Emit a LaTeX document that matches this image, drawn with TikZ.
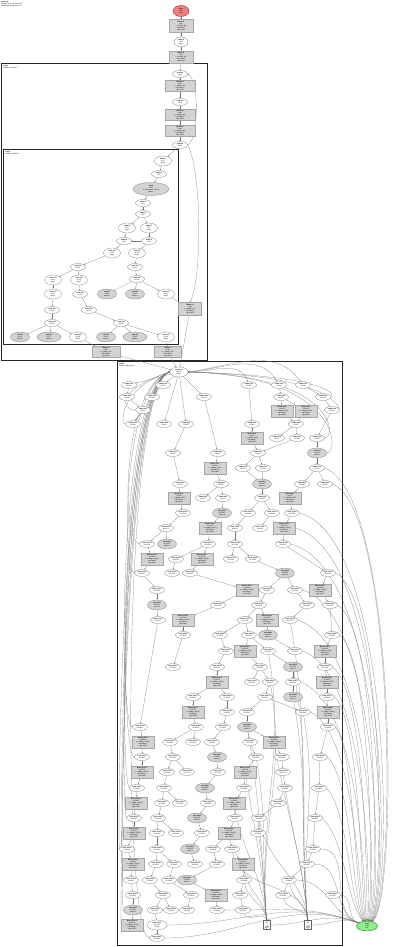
\documentclass[tikz,border=0pt]{standalone}
\usepackage{fontspec}
\setmainfont{Liberation Sans}
\usetikzlibrary{shapes.geometric,arrows.meta}
\pgfdeclarelayer{clus}
\pgfdeclarelayer{edgs}
\pgfsetlayers{clus,edgs,main}
\definecolor{stred}{HTML}{F08080}
\definecolor{engrn}{HTML}{90EE90}
\definecolor{gfill}{HTML}{D3D3D3}
\newcommand{\eltx}[1]{\textbf{node #1}\\id #1}
\newcommand{\elthr}[1]{\textbf{node #1}\\id #1\\deg 2}
\newcommand{\bxtx}[1]{\textbf{Block #1}\\id #1\\x = load(p, #1);\\call step(x);\\goto next}
\newcommand{\gltx}[1]{\textbf{exit #1}\\id #1\\return x}
\begin{document}
\begin{tikzpicture}[x=1pt,y=-1pt,
  tx/.style={font={\fontsize{1.7}{2.0}\selectfont}, align=center, inner sep=0.2pt},
  elw/.style={tx, ellipse, draw=black!55, line width=0.25pt, fill=white, minimum width=15pt, minimum height=7pt},
  elt/.style={elw, minimum width=17pt, minimum height=10pt},
  elg/.style={tx, ellipse, draw=black!55, line width=0.25pt, fill=gfill, minimum width=19pt, minimum height=10pt},
  bxg/.style={tx, rectangle, draw=black!35, line width=0.25pt, fill=gfill, minimum width=22pt, minimum height=12pt},
  bxw/.style={bxg, minimum width=30pt, minimum height=11pt},
  sml/.style={tx, rectangle, draw=black!60, line width=0.25pt, fill=white, minimum width=7pt, minimum height=8pt},
  edg/.style={draw=black!55, line width=0.2pt, -{Stealth[length=1.4pt,width=1.1pt]}},
  clu/.style={draw=black!85, line width=0.8pt},
  clin/.style={draw=black!85, line width=0.6pt},
  lbl/.style={tx, align=left, anchor=north west}]
\useasboundingbox (0,0) rectangle (400,947);

% title
\node[lbl] (ttl) at (1,1) {\textbf{main cfg}\\function: main (212 blocks)\\generated by cfg-dump 1.2};

% top chain
\node[tx, ellipse, draw=red!60!black, line width=0.3pt, fill=stred, minimum width=16pt, minimum height=11pt] (start) at (181,11) {\textbf{Start}\\main\\entry};
\node[bxg, minimum width=24pt, minimum height=13pt] (t1) at (181,26) {\bxtx{t1}};
\node[elt, minimum width=14pt] (t2) at (181,42) {\elthr{t2}};
\node[bxg, minimum width=24pt, minimum height=12pt] (t3) at (181,57) {\bxtx{t3}};

% cluster 1 chain
\node[elw] (a1) at (180,74) {\eltx{a1}};
\node[bxw] (a2) at (180,86) {\bxtx{a2}};
\node[elw] (a3) at (180,102) {\eltx{a3}};
\node[bxw] (a4) at (180,115) {\bxtx{a4}};
\node[bxw] (a5) at (180,131) {\bxtx{a5}};
\node[elw] (a6) at (180,145) {\eltx{a6}};

% inner cluster
\foreach \nm/\x/\y in {i2/159/174, i4/143/203, i5/143/214, i8/124/241, i9/149/241,
  i12/78/267, i13/135/267, i16/137/279, i18/80/294, i22/52/310, i23/89/310, i24/52/323, i25/121/323}
  \node[elw] (\nm) at (\x,\y) {\eltx{\nm}};
\foreach \nm/\x/\y in {i1/163/161, i6/127/228, i7/149/228, i10/112/253, i11/137/253,
  i14/53/280, i15/79/280, i17/53/294, i21/166/294, i28/78/337, i31/166/337}
  \node[elt] (\nm) at (\x,\y) {\elthr{\nm}};
\foreach \nm/\x/\y in {i19/107/294, i20/135/294, i26/20/337, i29/106/337}
  \node[elg] (\nm) at (\x,\y) {\gltx{\nm}};
\foreach \nm/\x/\y in {i27/49/337, i30/135/337}
  \node[elg, minimum width=24pt] (\nm) at (\x,\y) {\gltx{\nm}};
\node[elg, minimum width=36pt, minimum height=13pt] (i3) at (151,189) {\textbf{exit i3}\\id i3\\r = reduce(acc, buf, n);\\return r};

\node[bxg, minimum width=23pt, minimum height=13pt] (c1) at (190,309) {\bxtx{c1}};
\node[bxg, minimum width=28pt, minimum height=11pt] (c2) at (106,352) {\bxtx{c2}};
\node[bxg, minimum width=27pt, minimum height=11pt] (c3) at (168,352) {\bxtx{c3}};

% big cluster
\node[elt, minimum width=18pt] (hub) at (179,372) {\elthr{hub}};
\foreach \nm/\x/\y in {
r1c1/129/385, r1c2/163/385, r1c3/249/385, r1c4/279/385, r1c5/303/385,
r2c1/127/397, r2c2/152/397, r2c3/204/397, r2c4/281/397, r2c5/323/397,
r3c1/143/410, r3c4/332/410,
r4c1/133/424, r4c2/164/424, r4c3/186/424, r4c4/252/424, r4c5/296/424,
r5c2/277/438, r5c3/297/438, r5c4/317/438,
r6c1/173/453, r6c2/218/453, r6c3/258/453,
r7c2/243/468, r7c3/263/468, r7c4/317/468,
r8c1/180/484, r8c2/221/484, r8c4/302/484, r8c5/325/484,
r9c2/203/498, r9c3/223/498, r9c4/262/498,
r10c1/183/513, r10c3/248/513, r10c4/272/513, r10c5/292/513,
r11c1/166/528, r11c3/235/528, r11c4/260/528,
r12c1/147/544, r12c3/208/544, r12c4/235/544, r12c5/283/544,
r13c2/176/559, r13c4/231/559, r13c5/253/559,
r14c1/142/573, r14c2/172/573, r14c3/190/573, r14c5/328/573,
r15c1/157/590, r15c3/267/590, r15c4/295/590,
r16c2/218/605, r16c3/259/605, r16c4/307/605, r16c5/330/605,
r17c1/158/620, r17c3/245/620, r17c5/290/620,
r18c1/183/635, r18c2/220/635, r18c3/249/635, r18c5/332/635,
r19c1/226/651, r19c3/268/651, r19c4/295/651,
r20c1/173/667, r20c2/217/667, r20c3/260/667, r20c5/325/667,
r21c2/252/682, r21c3/270/682, r21c4/293/682,
r22c1/193/697, r22c2/227/697, r22c3/265/697, r22c5/327/697,
r23c2/227/712, r23c3/247/712, r23c4/303/712,
r24c1/140/727, r24c2/196/727, r24c3/223/727, r24c5/328/727,
r25c2/170/742, r25c3/193/742, r25c4/212/742, r25c5/250/742,
r26c1/142/757, r26c2/173/757, r26c4/256/757, r26c5/282/757, r26c6/320/757,
r27c2/167/772, r27c3/187/772, r27c4/218/772, r27c6/283/772,
r28c1/137/788, r28c2/164/788, r28c4/244/788, r28c5/285/788, r28c6/319/788,
r29c2/162/803, r29c3/180/803, r29c4/208/803, r29c6/278/803,
r30c1/134/818, r30c2/158/818, r30c4/235/818, r30c5/259/818, r30c6/315/818,
r31c2/157/833, r31c3/176/833, r31c4/202/833, r31c6/258/833,
r32c1/127/849, r32c2/157/849, r32c4/213/849, r32c5/232/849, r32c6/313/849,
r33c2/156/864, r33c3/174/864, r33c4/195/864, r33c5/217/864, r33c7/307/864,
r34c1/131/880, r34c2/150/880, r34c3/169/880, r34c5/244/880, r34c6/289/880,
r35c1/133/895, r35c2/163/895, r35c3/191/895, r35c5/240/895, r35c6/283/895, r35c7/333/895,
r36c2/155/910, r36c3/171/910, r36c4/187/910, r36c5/217/910, r36c6/243/910,
r38c1/157/938}
  \node[elw] (\nm) at (\x,\y) {\eltx{\nm}};
\node[elt, minimum width=20pt] (r37c2) at (157,925) {\elthr{r37c2}};
\foreach \nm/\x/\y in {
r6c4/317/453, r8c3/262/484, r10c2/222/513, r12c2/167/544, r14c4/285/573, r16c1/157/605,
r18c4/268/635, r20c4/293/667, r22c4/293/697, r24c4/247/727, r26c3/217/757, r28c3/205/788,
r30c3/197/818, r32c3/190/849, r34c4/187/880, r36c1/133/910}
  \node[elg] (\nm) at (\x,\y) {\gltx{\nm}};
\foreach \nm/\x/\y in {
r3c2/282/411, r3c3/306/411, r5c1/252/438, r7c1/215/468, r9c1/179/498, r9c5/290/498,
r11c2/210/528, r11c5/284/528, r13c1/152/559, r13c3/202/559, r15c2/247/590, r15c5/320/590,
r17c2/183/620, r17c4/267/620, r19c2/245/651, r19c5/325/651, r21c1/217/682, r21c5/327/682,
r23c1/193/712, r23c5/328/712, r25c1/143/742, r25c6/274/742, r27c1/142/772, r27c5/245/772,
r29c1/136/803, r29c5/234/803, r31c1/134/833, r31c5/229/833, r33c1/133/864, r33c6/243/864,
r35c4/216/895, r37c1/132/925}
  \node[bxg] (\nm) at (\x,\y) {\bxtx{\nm}};
\node[sml] (r37c3) at (267,925) {\textbf{J}\\m1\\\(\phi\)};
\node[sml] (r37c4) at (308,925) {\textbf{J}\\m2\\\(\phi\)};

\node[tx, ellipse, draw=green!40!black, line width=0.3pt, fill=engrn, minimum width=21pt, minimum height=10pt] (endn) at (367,926) {\textbf{End}\\main\\exit};

% clusters
\begin{pgfonlayer}{clus}
\draw[clu] (1,63) rectangle (207,360);
\draw[clin] (3,149) rectangle (178,344);
\draw[clu] (117,361) rectangle (342,945);
\end{pgfonlayer}
\node[lbl] (lb1) at (3,64.5) {\textbf{loop 0}\\header a1, depth 1};
\node[lbl] (lb2) at (5,150.5) {\textbf{loop 1}\\header i1, depth 2};
\node[lbl] (lb3) at (119,362.5) {\textbf{loop 2}\\header hub, depth 1};

\begin{pgfonlayer}{edgs}
% top and cluster 1
\foreach \u/\v in {start/t1, t1/t2, t2/t3, t3/a1, a1/a2, a2/a3, a3/a4, a4/a5, a5/a6, a6/i1,
  i1/i2, i2/i3, i3/i4, i4/i5, i5/i6, i5/i7, i6/i8, i7/i9, i9/i8, i8/i10, i9/i11, i10/i12, i11/i13,
  i12/i14, i12/i15, i13/i16, i14/i17, i15/i18, i16/i19, i16/i20, i16/i21, i17/i22, i18/i23,
  i22/i24, i23/i25, i24/i26, i24/i27, i24/i28, i25/i29, i25/i30, i25/i31,
  i21/c1, i28/c2, i31/c3, c1/hub, c2/hub, c3/hub}
  \draw[edg] (\u) -- (\v);
\draw[edg] (a6.east) .. controls (199,140) and (199,80) .. (a1.east);
\draw[edg] (a6.east) .. controls (202,170) and (202,280) .. (c1.north);

% big cluster forward edges
\foreach \u/\v in {hub/r1c1, hub/r1c2, hub/r2c3, hub/r4c2, hub/r4c3,
r1c1/r2c1, r1c2/r2c2, r1c3/r4c4, r1c4/r2c4, r1c5/r2c5,
r2c1/r3c1, r2c2/r4c1, r2c4/r3c2, r2c4/r3c3, r2c5/r3c4,
r3c1/r4c1, r3c2/r4c5, r3c3/r4c5, r3c4/r5c4,
r4c4/r5c1, r4c5/r5c2, r4c5/r5c3,
r2c3/r6c2, r4c3/r6c1, r5c1/r6c3, r5c3/r6c3, r5c4/r6c4,
r6c2/r7c1, r6c3/r7c2, r6c3/r7c3, r6c4/r7c4,
r7c1/r8c2, r7c2/r8c3, r7c3/r8c3, r7c4/r8c4, r7c4/r8c5, r6c1/r8c1,
r8c1/r9c1, r8c2/r9c2, r8c2/r9c3, r8c3/r9c4, r8c4/r9c5,
r9c1/r10c1, r9c3/r10c2, r9c4/r10c3, r9c4/r10c4, r9c5/r10c5,
r10c1/r11c1, r10c2/r11c2, r10c3/r11c3, r10c4/r11c4, r10c5/r11c5,
r11c1/r12c1, r11c1/r12c2, r11c2/r12c3, r11c3/r12c4, r11c5/r12c5,
r12c1/r13c1, r12c3/r13c2, r12c3/r13c3, r12c4/r13c4, r12c4/r13c5,
r13c1/r14c1, r13c2/r14c2, r13c3/r14c3, r13c5/r14c4, r12c5/r14c5,
r14c1/r15c1, r14c3/r15c2, r14c4/r15c3, r14c4/r15c4, r14c5/r15c5,
r15c1/r16c1, r15c2/r16c2, r15c3/r16c3, r15c4/r16c4, r15c5/r16c5,
r16c1/r17c1, r16c2/r17c2, r16c3/r17c3, r16c3/r17c4, r16c4/r17c5,
r17c2/r18c1, r17c3/r18c2, r17c3/r18c3, r17c4/r18c4, r16c5/r18c5,
r18c2/r19c1, r18c3/r19c2, r18c3/r19c3, r18c4/r19c4, r18c5/r19c5,
r18c1/r20c1, r19c1/r20c2, r19c2/r20c3, r19c3/r20c4, r19c5/r20c5,
r20c2/r21c1, r20c3/r21c2, r20c3/r21c3, r20c4/r21c4, r20c5/r21c5,
r21c1/r22c1, r21c1/r22c2, r21c3/r22c3, r21c4/r22c4, r21c5/r22c5,
r22c1/r23c1, r22c2/r23c2, r22c3/r23c3, r22c3/r23c4, r22c5/r23c5,
r17c1/r24c1, r23c1/r24c2, r23c2/r24c3, r23c3/r24c4, r23c5/r24c5,
r24c1/r25c1, r24c2/r25c2, r24c2/r25c3, r24c3/r25c4, r24c4/r25c5, r24c4/r25c6,
r25c1/r26c1, r25c2/r26c2, r25c4/r26c3, r25c5/r26c4, r25c6/r26c5, r24c5/r26c6,
r26c1/r27c1, r26c2/r27c2, r26c2/r27c3, r26c3/r27c4, r26c4/r27c5, r26c5/r27c6,
r27c1/r28c1, r27c2/r28c2, r27c4/r28c3, r27c5/r28c4, r27c6/r28c5, r26c6/r28c6,
r28c1/r29c1, r28c2/r29c2, r28c2/r29c3, r28c3/r29c4, r28c4/r29c5, r28c5/r29c6,
r29c1/r30c1, r29c2/r30c2, r29c4/r30c3, r29c5/r30c4, r29c6/r30c5, r28c6/r30c6,
r30c1/r31c1, r30c2/r31c2, r30c2/r31c3, r30c3/r31c4, r30c4/r31c5, r30c5/r31c6,
r31c1/r32c1, r31c2/r32c2, r31c4/r32c3, r31c5/r32c4, r31c5/r32c5, r30c6/r32c6,
r32c1/r33c1, r32c2/r33c2, r32c2/r33c3, r32c3/r33c4, r32c4/r33c5, r32c5/r33c6, r32c6/r33c7,
r33c1/r34c1, r33c2/r34c2, r33c3/r34c3, r33c5/r34c4, r33c6/r34c5, r33c7/r34c6,
r34c1/r35c1, r34c2/r35c2, r34c3/r35c3, r34c4/r35c4, r34c5/r35c5, r34c6/r35c6,
r35c1/r36c1, r35c2/r36c2, r35c2/r36c3, r35c3/r36c4, r35c4/r36c5, r35c5/r36c6,
r36c1/r37c1, r36c2/r37c2, r37c2/r38c1}
  \draw[edg] (\u) -- (\v);

% hub to upper right
\draw[edg] (hub.east) to[out=0,in=110] (r1c3);
\draw[edg] (hub.east) to[out=5,in=120] (r1c4);
\draw[edg] (hub.east) to[out=8,in=125] (r1c5);

% merge nodes
\foreach \u in {r19c3, r21c3, r24c4, r26c4, r27c5, r29c5, r31c6, r33c6, r34c5, r36c6}
  \draw[edg] (\u) to[out=-80,in=95] (r37c3);
\foreach \u in {r17c5, r20c4, r22c4, r23c4, r25c6, r28c5, r30c5, r32c5, r34c6, r35c6}
  \draw[edg] (\u) to[out=-80,in=95] (r37c4);

% back edges to hub, left
\foreach \u/\yy/\X in {r3c1/410/119, r4c1/424/120, r12c1/544/121, r14c1/573/122, r24c1/727/118,
  r26c1/757/119, r28c1/788/120, r30c1/818/121, r32c1/849/118, r34c1/880/119, r36c1/910/120,
  r37c1/925/121, r38c1/938/122}
  \draw[edg] (\u.west) .. controls (\X,\yy) and (\X,388) .. (hub.west);
% back edges to hub, right
\foreach \u/\yy/\X in {r2c5/397/336, r5c4/438/337, r3c4/410/339, r6c4/453/340}
  \draw[edg] (\u.east) .. controls (\X,\yy) and (\X,376) .. (hub.east);

% edges to End, wide fan
\foreach \u/\yy/\X in {r7c4/468/398, r8c5/484/396, r10c5/513/393, r11c5/528/390, r12c5/544/388,
  r14c5/573/385, r15c4/590/382, r16c5/605/379, r17c5/620/376, r18c5/635/373, r19c4/651/370,
  r20c5/667/367, r21c4/682/364, r22c5/697/361, r23c4/712/358, r24c5/727/355, r26c6/757/352,
  r28c6/788/349, r30c6/818/346}
  \draw[edg] (\u.east) .. controls (\X,\yy+25) and (\X,900) .. (endn);
\foreach \u in {r32c6, r33c7, r34c6, r35c7, r37c3, r37c4, r37c2, r38c1, r36c5}
  \draw[edg] (\u) to[out=0,in=160] (endn);
\end{pgfonlayer}
\end{tikzpicture}
\end{document}
